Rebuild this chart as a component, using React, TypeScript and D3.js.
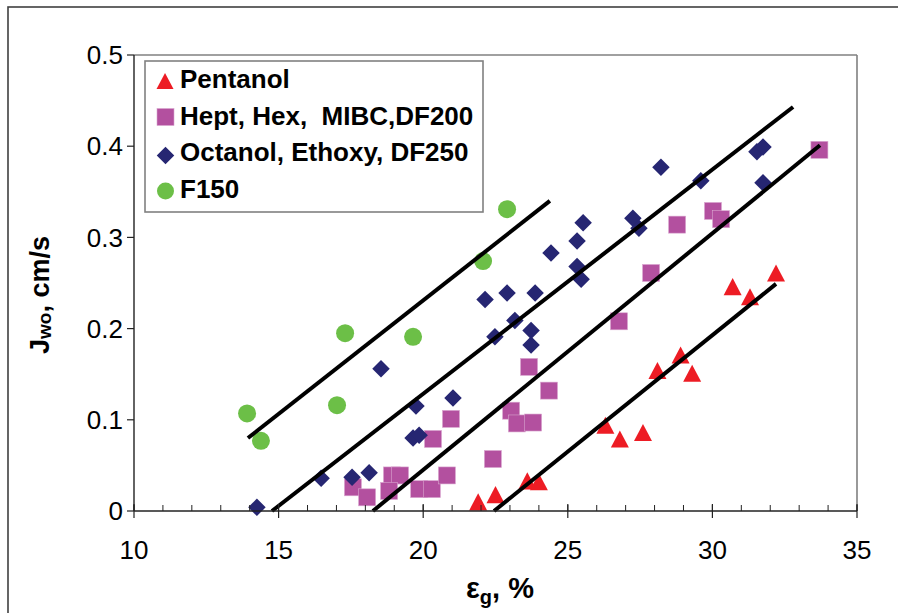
import React from "react";
import * as d3 from "d3";

const pentanol: [number, number][] = [
  [21.9, 0.01], [22.5, 0.018], [23.6, 0.033], [24.0, 0.032], [26.3, 0.094], [26.8, 0.079],
  [27.6, 0.086], [28.1, 0.154], [28.9, 0.171], [29.3, 0.151], [30.7, 0.246], [31.3, 0.235], [32.2, 0.261],
];
const hept: [number, number][] = [
  [17.57, 0.026], [18.06, 0.015], [18.92, 0.039], [19.2, 0.039], [18.82, 0.022], [19.86, 0.024],
  [20.3, 0.024], [20.82, 0.039], [20.34, 0.079], [20.96, 0.101], [22.41, 0.057], [23.04, 0.11],
  [23.24, 0.096], [23.8, 0.097], [23.66, 0.158], [24.35, 0.132], [26.77, 0.208], [27.88, 0.261],
  [28.78, 0.314], [30.02, 0.329], [30.3, 0.32], [33.7, 0.396],
];
const octanol: [number, number][] = [
  [14.25, 0.004], [16.47, 0.036], [17.54, 0.037], [18.13, 0.042], [18.54, 0.156], [19.75, 0.115],
  [19.65, 0.08], [19.86, 0.083], [21.03, 0.124], [22.14, 0.232], [22.9, 0.239], [23.87, 0.239],
  [22.48, 0.191], [23.17, 0.209], [23.73, 0.198], [23.73, 0.182], [24.42, 0.283], [25.53, 0.316],
  [25.32, 0.296], [25.32, 0.268], [25.46, 0.254], [27.25, 0.321], [27.46, 0.31], [28.22, 0.377],
  [29.6, 0.362], [31.54, 0.394], [31.75, 0.399], [31.75, 0.36],
];
const f150: [number, number][] = [
  [13.91, 0.107], [14.39, 0.077], [17.3, 0.195], [17.02, 0.116], [19.65, 0.191], [22.07, 0.274], [22.9, 0.331],
];
const fitLines: [number, number, number, number][] = [
  [13.94, 0.08, 24.38, 0.34],
  [14.77, 0.0, 32.79, 0.443],
  [18.26, 0.0, 33.72, 0.401],
  [22.45, 0.0, 32.2, 0.249],
];
const xTicks = [10, 15, 20, 25, 30, 35];
const xMinor = d3.range(10, 36, 1);
const yTicks = [0, 0.1, 0.2, 0.3, 0.4, 0.5];
const legendLabels = ["Pentanol", "Hept, Hex,  MIBC,DF200", "Octanol, Ethoxy, DF250", "F150"];

const RED = "#ED1C24";
const PURPLE = "#B3509F";
const NAVY = "#262672";
const GREEN = "#6CBF47";

const x = d3.scaleLinear().domain([10, 35]).range([134, 857]);
const y = d3.scaleLinear().domain([0, 0.5]).range([511, 55]);

const FONT = "'Liberation Sans', Arial, sans-serif";

function Tri({ cx, cy, s = 18 }: { cx: number; cy: number; s?: number }) {
  const h = s * 0.95;
  return <polygon points={`${cx},${cy - h / 2} ${cx - s / 2},${cy + h / 2} ${cx + s / 2},${cy + h / 2}`} fill={RED} />;
}
function Sq({ cx, cy, s = 17 }: { cx: number; cy: number; s?: number }) {
  return <rect x={cx - s / 2} y={cy - s / 2} width={s} height={s} fill={PURPLE} stroke="#D9A6CF" strokeWidth={0.6} />;
}
function Dia({ cx, cy, s = 17.5 }: { cx: number; cy: number; s?: number }) {
  const r = s / 2;
  return <polygon points={`${cx},${cy - r} ${cx + r},${cy} ${cx},${cy + r} ${cx - r},${cy}`} fill={NAVY} />;
}
function Circ({ cx, cy, s = 18 }: { cx: number; cy: number; s?: number }) {
  return <circle cx={cx} cy={cy} r={s / 2} fill={GREEN} />;
}

export default function App() {
  const legendRows = [0, 1, 2, 3].map((i) => 80 + i * 36.7);
  return (
    <div style={{ position: "absolute", left: 0, top: 0 }}>
      <svg width={898} height={613} style={{ display: "block", background: "#fff" }}>
        <rect x={8} y={7} width={950} height={700} fill="#fff" stroke="#404040" strokeWidth={1.6} />
        {/* plot border top/right */}
        <line x1={134} y1={55} x2={857} y2={55} stroke="#808080" strokeWidth={1.6} />
        <line x1={857} y1={55} x2={857} y2={511} stroke="#808080" strokeWidth={1.6} />
        {/* markers */}
        {pentanol.map((d, i) => <Tri key={"p" + i} cx={x(d[0])} cy={y(d[1])} />)}
        {hept.map((d, i) => <Sq key={"h" + i} cx={x(d[0])} cy={y(d[1])} />)}
        {octanol.map((d, i) => <Dia key={"o" + i} cx={x(d[0])} cy={y(d[1])} />)}
        {f150.map((d, i) => <Circ key={"f" + i} cx={x(d[0])} cy={y(d[1])} />)}
        {/* fit lines */}
        {fitLines.map((l, i) => (
          <line key={"l" + i} x1={x(l[0])} y1={y(l[1])} x2={x(l[2])} y2={y(l[3])} stroke="#000" strokeWidth={4} />
        ))}
        {/* axes */}
        <line x1={134} y1={55} x2={134} y2={511} stroke="#222" strokeWidth={1.4} />
        <line x1={134} y1={511} x2={857} y2={511} stroke="#222" strokeWidth={1.4} />
        {yTicks.map((t) => (
          <g key={"yt" + t}>
            <line x1={127} x2={134} y1={y(t)} y2={y(t)} stroke="#222" strokeWidth={1.2} />
            <text x={123} y={y(t)} dy="0.35em" textAnchor="end" fontFamily={FONT} fontSize={26} fill="#000">
              {t === 0 ? "0" : d3.format(".1f")(t)}
            </text>
          </g>
        ))}
        {xMinor.map((t) => (
          <line key={"xm" + t} x1={x(t)} x2={x(t)} y1={505} y2={511} stroke="#222" strokeWidth={1} />
        ))}
        {xTicks.map((t) => (
          <g key={"xt" + t}>
            <line x1={x(t)} x2={x(t)} y1={504} y2={518} stroke="#222" strokeWidth={1.2} />
            <text x={x(t)} y={559} textAnchor="middle" fontFamily={FONT} fontSize={26} fill="#000">
              {t}
            </text>
          </g>
        ))}
        {/* axis titles */}
        <text x={500} y={598} textAnchor="middle" fontFamily={FONT} fontSize={29} fontWeight="bold" fill="#000">
          ε<tspan fontSize={20} dy={6}>g</tspan>
          <tspan dy={-6}>, %</tspan>
        </text>
        <text
          transform="translate(49,295) rotate(-90)"
          textAnchor="middle"
          fontFamily={FONT}
          fontSize={27}
          fontWeight="bold"
          fill="#000"
        >
          J<tspan fontSize={19} dy={2}>wo</tspan>
          <tspan dy={-2}>, cm/s</tspan>
        </text>
        {/* legend */}
        <rect x={145} y={61} width={338} height={151} fill="#fff" stroke="#808080" strokeWidth={1.6} />
        <Tri cx={165} cy={81} s={17} />
        <Sq cx={165.5} cy={117} s={17} />
        <Dia cx={165.5} cy={155.5} s={17.5} />
        <Circ cx={165.5} cy={191} s={17} />
        {legendLabels.map((lab, i) => (
          <text
            key={lab}
            x={180}
            y={legendRows[i] + 8}
            fontFamily={FONT}
            fontSize={26}
            fontWeight="bold"
            fill="#000"
            style={{ whiteSpace: "pre" }}
          >
            {lab}
          </text>
        ))}
      </svg>
    </div>
  );
}
